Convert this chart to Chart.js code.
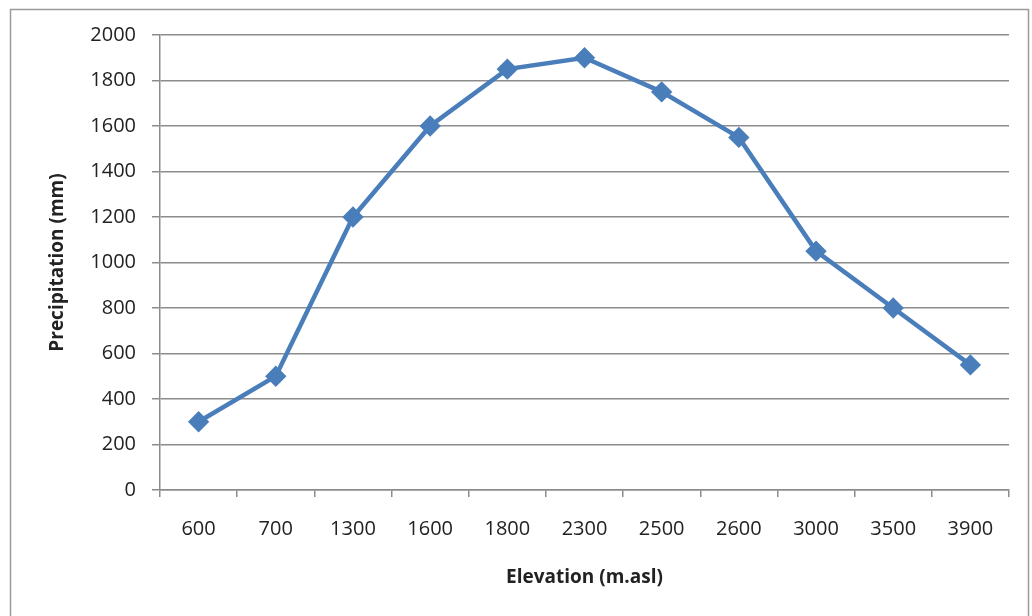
<!DOCTYPE html>
<html>
<head>
<meta charset="utf-8">
<script src="https://cdn.jsdelivr.net/npm/chart.js@4"></script>
<style>
  html, body { margin: 0; padding: 0; background: #fff; }
  #wrap { width: 1032px; height: 616px; position: relative; }
</style>
</head>
<body>
<div id="wrap"><canvas id="chart" width="1032" height="616"></canvas></div>
<script>
// elevation categories (m.asl)
var elevations = ['600', '700', '1300', '1600', '1800', '2300', '2500', '2600', '3000', '3500', '3900'];
// precipitation (mm)
var precipitation = [300, 500, 1200, 1600, 1850, 1900, 1750, 1550, 1050, 800, 550];
var yMin = 0, yMax = 2000, yStep = 200;

var lineBlue = '#4a7ebb';
var gridGrey = '#8c8c8c';
var textCol = '#222222';
var fontName = "'Open Sans', sans-serif";

// grey frame around the whole chart like the excel one
var framePlugin = {
  id: 'frame',
  beforeDraw: function (chart) {
    var ctx = chart.ctx;
    ctx.save();
    ctx.fillStyle = '#fff';
    ctx.fillRect(0, 0, chart.width, chart.height);
    ctx.strokeStyle = '#9a9a9a';
    ctx.lineWidth = 1.5;
    ctx.strokeRect(10.5, 9.5, 1018, 640);
    ctx.restore();
  }
};

var ctx = document.getElementById('chart').getContext('2d');
var chart = new Chart(ctx, {
  type: 'line',
  data: {
    labels: elevations,
    datasets: [{
      label: 'Precipitation',
      data: precipitation,
      borderColor: lineBlue,
      backgroundColor: lineBlue,
      borderWidth: 4.5,
      pointStyle: 'rectRot',
      pointRadius: 7.5,
      pointHoverRadius: 7.5,
      tension: 0
    }]
  },
  options: {
    responsive: false,
    animation: false,
    layout: { padding: { left: 0, top: 35, right: 23, bottom: 0 } },
    plugins: {
      legend: { display: false },
      tooltip: { enabled: false }
    },
    scales: {
      x: {
        offset: true,
        grid: {
          offset: true,
          drawOnChartArea: false,
          drawTicks: true,
          tickLength: 7,
          color: gridGrey,
          lineWidth: 1.5
        },
        border: { color: gridGrey, width: 1.5 },
        ticks: {
          color: textCol,
          font: { family: fontName, size: 20 },
          padding: 20,
          maxRotation: 0,
          autoSkip: false
        },
        title: {
          display: true,
          text: 'Elevation (m.asl)',
          color: textCol,
          font: { family: fontName, size: 19, weight: 'bold' },
          padding: { top: 0, bottom: 27 }
        },
        afterFit: function (scale) { scale.height = 126; }
      },
      y: {
        min: yMin,
        max: yMax,
        grid: {
          color: gridGrey,
          lineWidth: 1.5,
          tickLength: 8
        },
        border: { color: gridGrey, width: 1.5 },
        ticks: {
          stepSize: yStep,
          color: textCol,
          font: { family: fontName, size: 20 },
          padding: 16,
          callback: function (v) { return String(v); }
        },
        title: {
          display: true,
          text: 'Precipitation (mm)',
          color: textCol,
          font: { family: fontName, size: 19, weight: 'bold' },
          padding: { top: 46, bottom: 0 }
        },
        afterFit: function (scale) { scale.width = 160; }
      }
    }
  },
  plugins: [framePlugin]
});
</script>
</body>
</html>
